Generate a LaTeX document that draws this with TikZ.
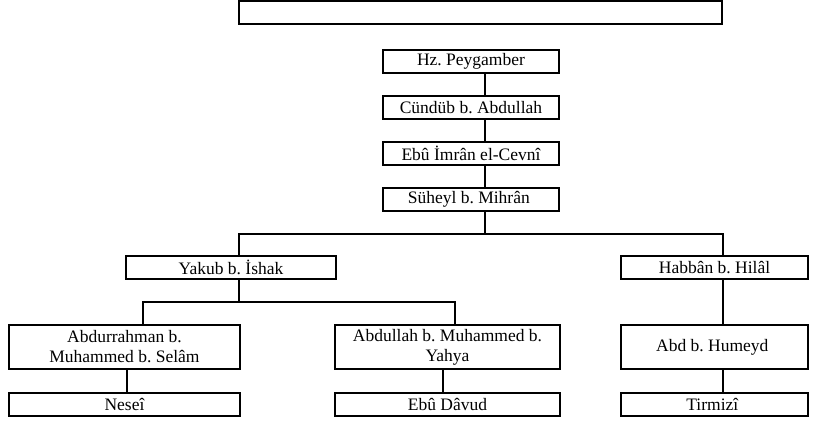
\documentclass[tikz,border=0pt]{standalone}
\usepackage{fontspec}
\setmainfont{Liberation Serif}
\usepackage{tikz}
\usetikzlibrary{positioning, calc}

\tikzset{
    narrator/.style={draw, line width=1.8pt, inner sep=0pt, align=center,
        font=\fontsize{17.5}{20}\selectfont\frenchspacing},
    link/.style={line width=1.8pt}
}

\begin{document}
\begin{tikzpicture}[x=1pt, y=-1pt, line join=miter]
    \useasboundingbox (0,0) rectangle (818,423);

    % Empty title box
    \node[narrator, minimum width=483pt, minimum height=23pt] (title) at (480.5,12.5) {};

    % Main chain
    \foreach \name/\y/\txt in {
        hz/61.5/Hz. Peygamber,
        cundub/107.5/Cündüb b. Abdullah,
        cevni/153.5/Ebû İmrân el-Cevnî,
        suheyl/199.5/Süheyl b. Mihrân
    }{
        \node[narrator, minimum width=176pt, minimum height=23pt] (\name) at (471,\y) {\txt};
    }

    % Second generation
    \node[narrator, minimum width=210pt, minimum height=23pt] (yakub) at (231,267.5) {Yakub b. İshak};
    \node[narrator, minimum width=187pt, minimum height=23pt] (habban) at (714.5,267.5) {Habbân b. Hilâl};

    % Third generation
    \foreach \name/\x/\w/\txt in {
        selam/124.5/231/Abdurrahman b.\\Muhammed b. Selâm,
        yahya/447.5/225/Abdullah b. Muhammed b.\\Yahya,
        humeyd/714.5/187/Abd b. Humeyd
    }{
        \node[narrator, minimum width=\w pt, minimum height=44pt] (\name) at (\x,347) {\txt};
    }

    % Compilers
    \foreach \name/\x/\w/\txt in {
        nesei/124.5/231/Neseî,
        davud/447.5/225/Ebû Dâvud,
        tirmizi/714.5/187/Tirmizî
    }{
        \node[narrator, minimum width=\w pt, minimum height=23pt] (\name) at (\x,404.5) {\txt};
    }

    % Connector columns and fork levels
    \coordinate (spine) at (485,0);
    \coordinate (yk) at (239,0);
    \coordinate (hb) at (723,0);
    \coordinate (ar) at (143,0);
    \coordinate (ab) at (455,0);
    \coordinate (ns) at (127,0);
    \coordinate (ed) at (443,0);
    \coordinate (forkA) at (0,234);
    \coordinate (forkB) at (0,302);

    % Chain links
    \foreach \a/\b in {hz/cundub, cundub/cevni, cevni/suheyl}{
        \draw[link] (\a.south -| spine) -- (\b.north -| spine);
    }

    % First split
    \draw[link] (suheyl.south -| spine) -- (spine |- forkA);
    \draw[link] (yakub.north -| yk) -- (yk |- forkA) -- (hb |- forkA) -- (habban.north -| hb);

    % Second split
    \draw[link] (yakub.south -| yk) -- (yk |- forkB);
    \draw[link] (selam.north -| ar) -- (ar |- forkB) -- (ab |- forkB) -- (yahya.north -| ab);

    % Down to the compilers
    \draw[link] (habban.south -| hb) -- (humeyd.north -| hb);
    \draw[link] (humeyd.south -| hb) -- (tirmizi.north -| hb);
    \draw[link] (selam.south -| ns) -- (nesei.north -| ns);
    \draw[link] (yahya.south -| ed) -- (davud.north -| ed);

\end{tikzpicture}
\end{document}
